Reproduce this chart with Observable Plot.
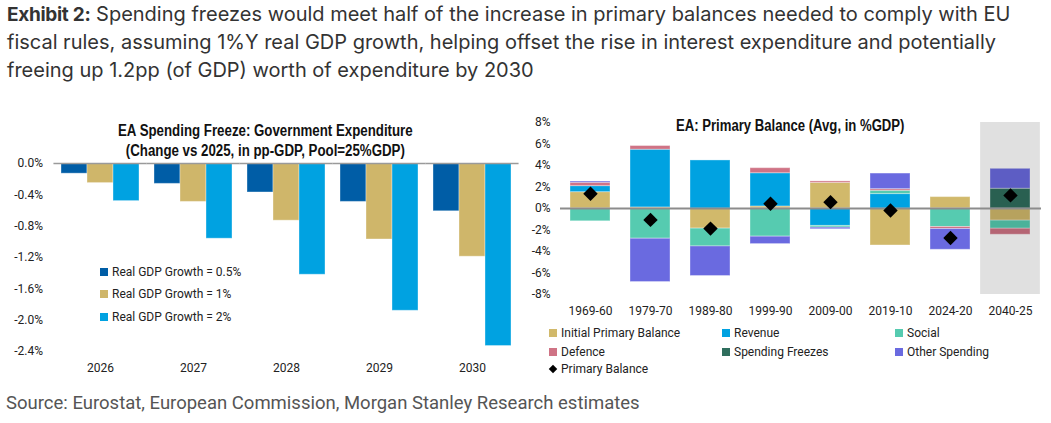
<!DOCTYPE html>
<html>
<head>
<meta charset="utf-8">
<script src="https://cdn.jsdelivr.net/npm/d3@7"></script>
<script src="https://cdn.jsdelivr.net/npm/@observablehq/plot@0.6"></script>
<style>
  body { margin: 0; background: #fff; }
  #page { position: relative; width: 1051px; height: 423px; overflow: hidden; font-family: Roboto, sans-serif; color: #222; }
  .abs { position: absolute; white-space: nowrap; }
  #headline { left: 7px; top: 1px; font-family: Inter, sans-serif; font-size: 20px; line-height: 27.8px; color: #333; }
  #headline b { font-weight: 700; font-size: 19px; letter-spacing: -0.3px; }
  .chart-title { font-family: "Liberation Sans", Arial, sans-serif; font-weight: bold; font-size: 16px; line-height: 20px; text-align: center; color: #111; transform-origin: 0 0; }
  .legend-item { font-size: 12px; line-height: 14px; color: #222; display: flex; align-items: center; }
  .swatch { width: 8px; height: 8px; margin-right: 4px; display: inline-block; }
  .diamond { width: 6px; height: 6px; background: #000; transform: rotate(45deg); margin: 0 5px 0 1px; display: inline-block; }
  #source { left: 6px; top: 392px; font-size: 18.5px; line-height: 22px; color: #555; }
  .plot { position: absolute; }
</style>
</head>
<body>
<div id="page">
  <div id="headline" class="abs"><b>Exhibit 2:</b> Spending freezes would meet half of the increase in primary balances needed to comply with EU<br>fiscal rules, assuming 1%Y real GDP growth, helping offset the rise in interest expenditure and potentially<br>freeing up 1.2pp (of GDP) worth of expenditure by 2030</div>
  <div id="leftTitle" class="abs chart-title" style="top:121px;">EA Spending Freeze: Government Expenditure<br>(Change vs 2025, in pp-GDP, Pool=25%GDP)</div>
  <div id="rightTitle" class="abs chart-title" style="top:116px;">EA: Primary Balance (Avg, in %GDP)</div>
  <div id="leftChart" class="plot" style="left:0; top:110px;"></div>
  <div id="rightChart" class="plot" style="left:520px; top:110px;"></div>
  <div id="leftLegend"></div>
  <div id="rightLegend"></div>
  <div id="source" class="abs">Source: Eurostat, European Commission, Morgan Stanley Research estimates</div>
</div>
<script>
// ---- Left panel: cumulative expenditure change under a spending freeze ----
const years = ["2026", "2027", "2028", "2029", "2030"];
const growthScenarios = ["Real GDP Growth = 0.5%", "Real GDP Growth = 1%", "Real GDP Growth = 2%"];
const freezeGrowthLow = [-0.13, -0.26, -0.37, -0.49, -0.61];
const freezeGrowthMid = [-0.25, -0.49, -0.73, -0.97, -1.19];
const freezeGrowthHigh = [-0.48, -0.96, -1.42, -1.88, -2.33];
const freezeTicks = [0, -0.4, -0.8, -1.2, -1.6, -2.0, -2.4];
const scenarioColors = ["#005da6", "#cfb66a", "#00a2e1"];

// ---- Right panel: primary balance decomposition by decade ----
const periods = ["1969-60", "1979-70", "1989-80", "1999-90", "2009-00", "2019-10", "2024-20", "2040-25"];
const components = ["Initial Primary Balance", "Revenue", "Social", "Defence", "Spending Freezes", "Other Spending"];
const initialBalance  = [1.52, 0.10, -1.87, 0.19, 2.38, -3.44, 1.06, -1.13];
const revenue         = [0.56, 5.37, 4.47, 3.09, -1.62, 1.34, 0, 0];
const social          = [-1.19, -2.81, -1.66, -2.62, -0.16, 0.31, -1.72, -0.75];
const defence         = [0.31, 0.34, 0, 0.47, 0.14, 0.15, -0.19, -0.56];
const spendingFreezes = [0, 0, 0, 0, 0, 0, 0, 1.84];
const otherSpending   = [0.12, -4.03, -2.75, -0.69, -0.15, 1.45, -1.93, 1.85];
const primaryBalance  = [1.38, -1.06, -1.87, 0.44, 0.59, -0.19, -2.75, 1.22];
const balanceTicks = [8, 6, 4, 2, 0, -2, -4, -6, -8];
const componentColors = ["#d1b96b", "#00a2e1", "#56cbb0", "#cf7385", "#2f6e5d", "#6a6ae0"];
const projectionPeriod = "2040-25";

const tickFont = {fontFamily: "Roboto, sans-serif", fontSize: "12px", color: "#222", background: "transparent"};

// Left chart: grouped bars, one facet per year
const freezeSeries = [freezeGrowthLow, freezeGrowthMid, freezeGrowthHigh];
const freezeRows = years.flatMap((year, i) =>
  freezeSeries.map((series, k) => ({year, scenario: growthScenarios[k], value: series[i]}))
);
const fxPadInner = 0.14, fxPadOuter = 0.07;
const leftRange = 520 - 51;
const fxStep = leftRange / (years.length - fxPadInner + 2 * fxPadOuter);
const ruleReach = fxStep * fxPadInner / 2;
// the y axis sits on the first facet, so push its labels past the outer padding
const leftTickPadding = 11 + fxStep * fxPadOuter;

const left = Plot.plot({
  width: 525,
  height: 271,
  marginLeft: 51,
  marginRight: 5,
  marginTop: 53,
  marginBottom: 30,
  style: tickFont,
  fx: {domain: years, paddingInner: fxPadInner, paddingOuter: fxPadOuter, axis: "bottom", label: null, tickSize: 0, tickPadding: 12},
  x: {domain: growthScenarios, padding: 0, axis: null},
  y: {domain: [-2.4, 0], ticks: freezeTicks, tickFormat: d => d.toFixed(1) + "%", tickSize: 0, tickPadding: leftTickPadding, label: null},
  color: {domain: growthScenarios, range: scenarioColors},
  marks: [
    Plot.barY(freezeRows, {fx: "year", x: "scenario", y: "value", fill: "scenario", stroke: "#fff", strokeOpacity: 0.35, strokeWidth: 1}),
    Plot.ruleY([0], {stroke: "#9a9a9a", strokeWidth: 1.5, insetLeft: -ruleReach, insetRight: -ruleReach})
  ]
});
document.getElementById("leftChart").append(left);

// Right chart: diverging stacked components with the primary balance marker
const componentSeries = [initialBalance, revenue, social, defence, spendingFreezes, otherSpending];
const componentRows = periods.flatMap((period, i) =>
  componentSeries.map((series, k) => ({period, component: components[k], value: series[i]}))
).filter(d => d.value !== 0);
const balanceRows = periods.map((period, i) => ({period, value: primaryBalance[i]}));

const xPad = 0.33;
const xStep = 480 / periods.length;
const shadeReach = xStep * xPad / 2;

const right = Plot.plot({
  width: 522,
  height: 214,
  marginLeft: 40,
  marginRight: 2,
  marginTop: 12,
  marginBottom: 30,
  style: tickFont,
  x: {domain: periods, paddingInner: xPad, paddingOuter: xPad / 2, label: null, tickSize: 0, tickPadding: 12},
  y: {domain: [-8, 8], ticks: balanceTicks, tickFormat: d => d + "%", tickSize: 0, tickPadding: 10, label: null},
  color: {domain: components, range: componentColors},
  marks: [
    Plot.barY(componentRows, Plot.stackY({x: "period", y: "value", fill: "component", z: "component", order: components, stroke: "#fff", strokeOpacity: 0.35, strokeWidth: 1})),
    Plot.barY([projectionPeriod], {x: d => d, y1: -8, y2: 8, fill: "#000", fillOpacity: 0.12, insetLeft: -shadeReach, insetRight: -shadeReach}),
    Plot.ruleY([0], {stroke: "#8c8c8c", strokeWidth: 2, insetRight: -1}),
    Plot.dot(balanceRows, {x: "period", y: "value", symbol: "diamond2", r: 6.5, fill: "#000"})
  ]
});
document.getElementById("rightChart").append(right);

// Condensed panel titles, centred on their anchor points
function placeTitle(id, centerX, squeeze) {
  const el = document.getElementById(id);
  const w = el.offsetWidth * squeeze;
  el.style.left = (centerX - w / 2) + "px";
  el.style.transform = `scaleX(${squeeze})`;
}
placeTitle("leftTitle", 265, 0.83);
placeTitle("rightTitle", 790, 0.82);

// Legends
const leftLegend = document.getElementById("leftLegend");
const leftLegendRows = [272, 294, 317];
growthScenarios.forEach((name, k) => {
  const item = document.createElement("div");
  item.className = "abs legend-item";
  item.style.left = "100px";
  item.style.top = (leftLegendRows[k] - 7) + "px";
  item.innerHTML = `<span class="swatch" style="background:${scenarioColors[k]}"></span>${name}`;
  leftLegend.append(item);
});

const rightLegend = document.getElementById("rightLegend");
const legendCols = [549, 722, 895];
const legendRows = [333, 352, 369];
components.forEach((name, k) => {
  const item = document.createElement("div");
  item.className = "abs legend-item";
  item.style.left = legendCols[k % 3] + "px";
  item.style.top = (legendRows[Math.floor(k / 3)] - 7) + "px";
  item.innerHTML = `<span class="swatch" style="background:${componentColors[k]}"></span>${name}`;
  rightLegend.append(item);
});
const pbItem = document.createElement("div");
pbItem.className = "abs legend-item";
pbItem.style.left = legendCols[0] + "px";
pbItem.style.top = (legendRows[2] - 7) + "px";
pbItem.innerHTML = `<span class="diamond"></span>Primary Balance`;
rightLegend.append(pbItem);
</script>
</body>
</html>
